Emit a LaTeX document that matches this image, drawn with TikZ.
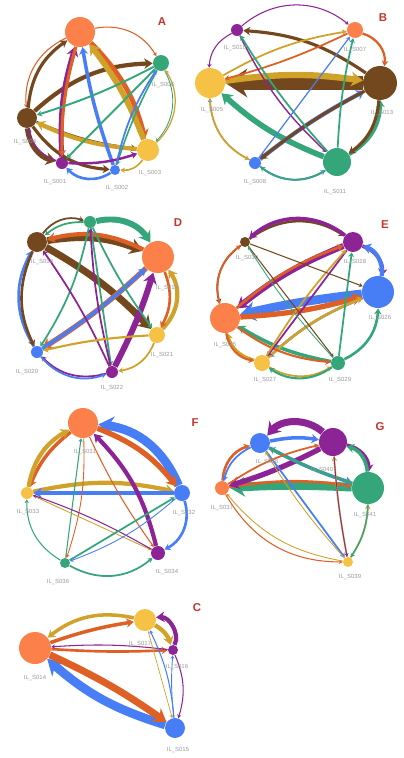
\documentclass[tikz,border=0pt]{standalone}
\usepackage{fontspec}
\setmainfont{Liberation Sans}
\usepackage{tikz}
\usetikzlibrary{arrows.meta, positioning, calc}

\definecolor{cOr}{RGB}{252,128,74}
\definecolor{cOrE}{RGB}{222,96,36}
\definecolor{cGr}{RGB}{52,166,122}
\definecolor{cBr}{RGB}{116,72,30}
\definecolor{cYe}{RGB}{245,194,70}
\definecolor{cYeE}{RGB}{208,162,42}
\definecolor{cPu}{RGB}{140,36,150}
\definecolor{cBl}{RGB}{72,126,245}
\definecolor{cLet}{RGB}{190,55,45}

\tikzset{
  vtx/.style={circle, inner sep=0pt, draw=none, minimum size=#1*0.4mm},
  lnk/.style={-{Stealth[length=1.2pt 1.5, width=1.2pt 2]}, line width=#1},
  lbl/.style={text=gray!80, font=\fontsize{3.4}{4}\selectfont, inner sep=0pt},
  tag/.style={text=cLet, font=\fontsize{6.5}{7}\selectfont\bfseries, inner sep=0pt}
}

\begin{document}
\begin{tikzpicture}[x=0.02cm, y=-0.02cm]
    \useasboundingbox (0,0) rectangle (404,758);

    % Panel A
    \node[vtx=15, fill=cOr] (Ao) at (80,32) {};
    \node[vtx=8, fill=cGr] (Ag) at (161,63) {};
    \node[vtx=10, fill=cBr] (Ab) at (27,118) {};
    \node[vtx=11, fill=cYe] (Ay) at (148,150) {};
    \node[vtx=6, fill=cPu] (Ap) at (62,163) {};
    \node[vtx=5, fill=cBl] (Au) at (115,170) {};
    \foreach \s/\t/\w/\c/\b in {
        Ao/Ab/0.6/cOrE/-35, Ao/Ag/0.6/cOrE/35, Ag/Ay/0.5/cGr/35, Ay/Ag/0.7/cYeE/-40,
        Ab/Ag/2.4/cBr/20, Ab/Ay/1.4/cBr/-8, Ab/Ap/3/cBr/-35, Ab/Au/1.8/cBr/-25,
        Ab/Ao/1.8/cBr/25, Ao/Ay/2.8/cOrE/15, Ay/Ao/3.2/cYeE/-8, Ay/Ab/2.4/cYeE/10,
        Ap/Ao/2.8/cPu/10, Au/Ao/2/cBl/5, Ao/Ap/1.8/cOrE/-8, Ap/Ab/0.8/cPu/30,
        Ag/Ab/1.1/cGr/5, Ag/Ap/1.1/cGr/0, Ag/Au/0.9/cGr/-5,
        Au/Ap/1.5/cBl/40, Ap/Ay/1.4/cPu/-10, Au/Ag/1/cBl/10, Ay/Au/0.9/cYeE/30}
        \draw[lnk=\w pt, \c] (\s) to[bend left=\b] (\t);
    \node[lbl] (Agl) at (163,85) {IL\_S006};
    \node[lbl] (Abl) at (25,142) {IL\_S004};
    \node[lbl] (Apl) at (55,182) {IL\_S001};
    \node[lbl] (Aul) at (117,188) {IL\_S002};
    \node[lbl] (Ayl) at (150,173) {IL\_S003};
    \node[tag] (At) at (162,22) {A};

    % Panel B
    \node[vtx=6, fill=cPu] (Bp) at (237,30) {};
    \node[vtx=8, fill=cOr] (Bo) at (355,30) {};
    \node[vtx=15, fill=cYe] (By) at (210,83) {};
    \node[vtx=17, fill=cBr] (Bb) at (380,83) {};
    \node[vtx=6, fill=cBl] (Bu) at (255,163) {};
    \node[vtx=14, fill=cGr] (Bg) at (337,162) {};
    \foreach \s/\t/\w/\c/\b in {
        Bp/Bo/0.6/cPu/40, Bo/Bb/1.3/cOrE/40, Bp/By/0.6/cPu/-30,
        Bb/By/7.5/cBr/0, By/Bb/3.6/cYeE/8, Bg/By/3.2/cGr/10,
        Bu/Bb/2.4/cBl/5, Bb/Bu/1.8/cBr/-5, Bb/Bp/1.8/cBr/-15,
        Bg/Bb/1.8/cGr/-30, Bb/Bg/1.8/cBr/25, By/Bo/1/cYeE/10, Bo/By/1/cOrE/5,
        Bp/Bg/0.8/cPu/-10, Bg/Bp/1/cGr/5, Bu/Bo/0.7/cBl/0, Bg/Bo/1/cGr/5,
        Bu/By/0.7/cBl/30, By/Bu/1/cYeE/-30, Bu/Bg/1/cBl/-35, Bg/Bu/1/cGr/35}
        \draw[lnk=\w pt, \c] (\s) to[bend left=\b] (\t);
    \node[lbl] (Bpl) at (235,48) {IL\_S010};
    \node[lbl] (Bol) at (355,50) {IL\_S007};
    \node[lbl] (Byl) at (212,110) {IL\_S005};
    \node[lbl] (Bbl) at (382,113) {IL\_S013};
    \node[lbl] (Bul) at (255,182) {IL\_S008};
    \node[lbl] (Bgl) at (335,192) {IL\_S011};
    \node[tag] (Bt) at (383,18) {B};

    % Panel D
    \node[vtx=6, fill=cGr] (Dg) at (90,222) {};
    \node[vtx=10, fill=cBr] (Db) at (37,242) {};
    \node[vtx=16, fill=cOr] (Do) at (158,257) {};
    \node[vtx=8, fill=cYe] (Dy) at (157,335) {};
    \node[vtx=6, fill=cBl] (Du) at (37,352) {};
    \node[vtx=6, fill=cPu] (Dp) at (112,372) {};
    \foreach \s/\t/\w/\c/\b in {
        Dg/Do/3.4/cGr/35, Db/Do/4/cBr/15, Db/Dy/4/cBr/8, Do/Db/2.4/cOrE/-20,
        Do/Du/3/cOrE/5, Dp/Do/3.4/cPu/-5, Dy/Do/2.4/cYeE/-40, Do/Dy/1.5/cOrE/25,
        Du/Do/2/cBl/-5, Du/Db/1.5/cBl/30, Db/Du/1.5/cBr/-25,
        Dg/Du/1/cGr/10, Dg/Dp/1/cGr/0, Dg/Dy/1/cGr/-5, Dp/Db/1/cPu/-5, Dp/Dg/1/cPu/5,
        Dy/Du/1.2/cYeE/-5, Dp/Du/1/cPu/30, Du/Dp/1/cBl/-35, Dy/Dp/1/cYeE/30,
        Db/Dg/1/cBr/35, Dg/Db/1/cGr/-20}
        \draw[lnk=\w pt, \c] (\s) to[bend left=\b] (\t);
    \node[lbl] (Dbl) at (42,262) {IL\_S018};
    \node[lbl] (Dol) at (167,288) {IL\_S019};
    \node[lbl] (Dyl) at (162,355) {IL\_S021};
    \node[lbl] (Dul) at (27,372) {IL\_S020};
    \node[lbl] (Dpl) at (112,388) {IL\_S022};
    \node[tag] (Dt) at (178,223) {D};

    % Panel E
    \node[vtx=5, fill=cBr] (Eb) at (245,242) {};
    \node[vtx=10, fill=cPu] (Ep) at (353,242) {};
    \node[vtx=16, fill=cBl] (Eu) at (378,292) {};
    \node[vtx=15, fill=cOr] (Eo) at (225,318) {};
    \node[vtx=8, fill=cYe] (Ey) at (262,363) {};
    \node[vtx=7, fill=cGr] (Eg) at (338,363) {};
    \foreach \s/\t/\w/\c/\b in {
        Eu/Eo/5/cBl/-3, Eo/Eu/3/cOrE/-6, Ep/Eo/3.4/cPu/-8, Eo/Ep/1.5/cOrE/10,
        Eb/Ep/1.4/cBr/35, Ep/Eb/2/cPu/-40, Ep/Eu/2/cPu/40, Eu/Ep/2.4/cBl/-40,
        Eb/Eo/1/cBr/-35, Eo/Eb/1/cOrE/35, Eg/Eo/2/cGr/10, Eu/Ey/1.5/cBl/-10,
        Ey/Eu/1.5/cYeE/10, Ey/Eo/1.5/cYeE/30, Eo/Eg/1.2/cOrE/-15, Eg/Eu/1.5/cGr/-30,
        Ep/Ey/1/cPu/0, Ey/Ep/1/cYeE/5, Eb/Eg/0.6/cBr/0, Eb/Eu/0.6/cBr/0,
        Eg/Eb/0.5/cGr/5, Ey/Eg/1/cYeE/-30, Eg/Ep/1/cGr/0, Eg/Ey/1.2/cGr/35,
        Eo/Ey/1.2/cOrE/-35}
        \draw[lnk=\w pt, \c] (\s) to[bend left=\b] (\t);
    \node[lbl] (Ebl) at (247,258) {IL\_S030};
    \node[lbl] (Epl) at (355,262) {IL\_S028};
    \node[lbl] (Eul) at (380,318) {IL\_S026};
    \node[lbl] (Eol) at (225,345) {IL\_S025};
    \node[lbl] (Eyl) at (265,380) {IL\_S027};
    \node[lbl] (Egl) at (340,380) {IL\_S029};
    \node[tag] (Et) at (385,225) {E};

    % Panel F
    \node[vtx=15, fill=cOr] (Fo) at (83,423) {};
    \node[vtx=6, fill=cYe] (Fy) at (27,493) {};
    \node[vtx=8, fill=cBl] (Fu) at (182,493) {};
    \node[vtx=7, fill=cPu] (Fp) at (158,553) {};
    \node[vtx=5, fill=cGr] (Fg) at (65,563) {};
    \foreach \s/\t/\w/\c/\b in {
        Fu/Fo/5/cBl/-30, Fo/Fu/3/cOrE/15, Fo/Fy/2/cOrE/-15, Fy/Fo/2.4/cYeE/25,
        Fy/Fu/2.4/cYeE/12, Fu/Fy/2.4/cBl/0, Fp/Fo/2.4/cPu/-15, Fo/Fp/0.6/cOrE/-5,
        Fg/Fo/0.6/cGr/0, Fo/Fg/0.5/cOrE/10, Fy/Fp/0.5/cYeE/0, Fp/Fy/0.6/cPu/-5,
        Fg/Fu/1/cGr/0, Fu/Fg/0.5/cBl/10, Fg/Fy/0.6/cGr/30, Fg/Fp/1/cGr/-35,
        Fu/Fp/1.5/cBl/40}
        \draw[lnk=\w pt, \c] (\s) to[bend left=\b] (\t);
    \node[lbl] (Fol) at (85,452) {IL\_S031};
    \node[lbl] (Fyl) at (28,512) {IL\_S033};
    \node[lbl] (Ful) at (184,513) {IL\_S032};
    \node[lbl] (Fpl) at (167,572) {IL\_S034};
    \node[lbl] (Fgl) at (58,582) {IL\_S036};
    \node[tag] (Ft) at (195,423) {F};

    % Panel G
    \node[vtx=10, fill=cBl] (Gu) at (260,443) {};
    \node[vtx=14, fill=cPu] (Gp) at (333,442) {};
    \node[vtx=7, fill=cOr] (Go) at (222,488) {};
    \node[vtx=16, fill=cGr] (Gg) at (368,488) {};
    \node[vtx=5, fill=cYe] (Gy) at (348,562) {};
    \foreach \s/\t/\w/\c/\b in {
        Gg/Go/5/cGr/-3, Go/Gg/1.5/cOrE/8, Gp/Gu/4/cPu/-45, Gu/Gp/2/cBl/10,
        Gp/Go/3/cPu/5, Gu/Gg/2/cBl/-5, Gg/Gu/1.5/cGr/5, Gp/Gg/2/cPu/40,
        Gg/Gp/2/cGr/-35, Go/Gu/1.5/cOrE/35, Gu/Go/1/cBl/-25, Gu/Gy/1/cBl/0,
        Go/Gy/0.6/cOrE/-30, Gy/Go/0.5/cYeE/20, Gy/Gp/1/cYeE/3, Gp/Gy/0.5/cPu/-3,
        Gy/Gg/1/cYeE/-15, Gg/Gy/0.8/cGr/15, Gy/Gu/0.5/cYeE/5, Go/Gp/1/cOrE/10}
        \draw[lnk=\w pt, \c] (\s) to[bend left=\b] (\t);
    \node[lbl] (Gul) at (267,462) {IL\_S038};
    \node[lbl] (Gpl) at (322,470) {IL\_S040};
    \node[lbl] (Gol) at (222,508) {IL\_S037};
    \node[lbl] (Ggl) at (365,515) {IL\_S041};
    \node[lbl] (Gyl) at (350,577) {IL\_S039};
    \node[tag] (Gt) at (380,427) {G};

    % Panel C
    \node[vtx=16, fill=cOr] (Co) at (35,648) {};
    \node[vtx=11, fill=cYe] (Cy) at (145,620) {};
    \node[vtx=5, fill=cPu] (Cp) at (173,650) {};
    \node[vtx=10, fill=cBl] (Cu) at (175,728) {};
    \foreach \s/\t/\w/\c/\b in {
        Cu/Co/5/cBl/12, Co/Cu/4/cOrE/5, Cy/Co/2/cYeE/-25, Co/Cy/2/cOrE/5,
        Co/Cp/1.5/cOrE/-3, Cp/Co/0.6/cPu/-5, Cp/Cy/2.4/cPu/-60, Cy/Cp/2.4/cYeE/20,
        Cy/Cu/0.4/cYeE/0, Cu/Cy/0.6/cBl/-10, Cp/Cu/0.6/cPu/20, Cu/Cp/0.5/cBl/5}
        \draw[lnk=\w pt, \c] (\s) to[bend left=\b] (\t);
    \node[lbl] (Col) at (35,678) {IL\_S014};
    \node[lbl] (Cyl) at (140,644) {IL\_S017};
    \node[lbl] (Cpl) at (177,667) {IL\_S016};
    \node[lbl] (Cul) at (178,750) {IL\_S015};
    \node[tag] (Ct) at (197,608) {C};
\end{tikzpicture}
\end{document}
